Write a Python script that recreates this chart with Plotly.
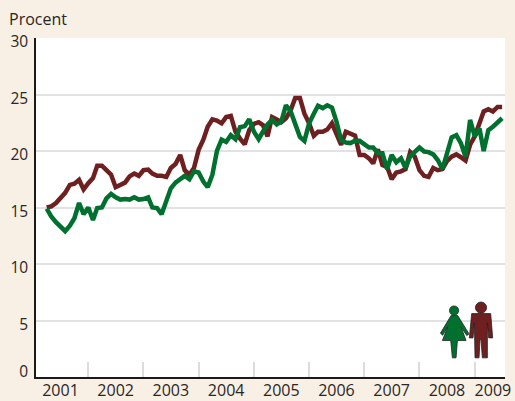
import pandas as pd
import plotly.graph_objects as go

months = pd.date_range("2001-04-01", periods=100, freq="MS")
men = [15.0,15.1,15.4,15.8,16.3,17.0,17.1,17.45,16.6,17.15,17.6,18.7,18.7,18.3,17.9,16.8,17.0,17.2,17.75,18.0,
       17.8,18.3,18.35,18.0,17.8,17.8,17.7,18.5,18.85,19.65,18.3,17.9,18.5,20.1,21.0,22.15,22.8,22.7,22.45,23.0,
       23.1,21.7,21.1,20.6,21.85,22.4,22.55,22.3,21.3,23.0,22.8,22.55,22.9,23.6,24.7,24.7,23.3,22.45,21.35,21.7,
       21.7,21.9,22.45,21.55,20.55,21.7,21.55,21.35,19.65,19.65,19.35,18.9,20.15,18.75,18.6,17.5,18.1,18.2,18.4,19.9,
       19.5,18.3,17.8,17.7,18.5,18.3,18.4,19.1,19.5,19.7,19.45,19.15,20.55,21.3,22.45,23.5,23.7,23.5,23.9,23.9]
women = [14.9,14.2,13.7,13.25,12.9,13.4,14.05,15.4,14.4,15.0,13.9,14.95,15.0,15.8,16.2,15.9,15.7,15.75,15.7,15.9,
         15.7,15.75,15.9,15.0,14.95,14.4,15.7,16.7,17.2,17.45,17.8,17.5,18.2,18.1,17.3,16.8,17.9,20.0,21.0,20.8,
         21.4,21.05,22.1,22.2,22.8,21.7,21.05,21.7,22.35,22.75,22.35,22.6,24.05,23.5,22.3,21.25,20.9,22.45,23.3,24.0,
         23.8,24.05,23.85,22.6,20.95,20.75,20.7,20.9,20.9,20.6,20.3,20.3,19.8,19.8,18.4,19.65,19.0,19.35,18.5,19.55,
         19.9,20.3,19.95,19.9,19.7,19.2,18.4,19.65,21.2,21.4,20.7,19.5,22.75,21.3,22.0,20.0,21.85,22.15,22.6,22.9]
year_labels = ["2001","2002","2003","2004","2005","2006","2007","2008","2009"]
year_label_pos = ["2001-07-01","2002-07-01","2003-07-01","2004-07-01","2005-07-01","2006-07-01","2007-07-01","2008-07-01","2009-05-01"]
y_labels = ["0","5","10","15","20","25","30"]
y_label_pos = [0.85,5,10,15,20,25,30]

W, H = 515, 401
BG = "#f8f0e4"
MAROON = "#6e1f1f"
GREEN = "#00702f"
INK = "#2a2626"
FONT = "Open Sans"
L, R, T, B = 35.5, 505, 38, 377.5

fig = go.Figure()
fig.add_trace(go.Scatter(x=months, y=men, mode="lines", line=dict(color=MAROON, width=4.5), showlegend=False))
fig.add_trace(go.Scatter(x=months, y=women, mode="lines", line=dict(color=GREEN, width=4.5), showlegend=False))

def px(x): return (x - L) / (R - L)
def py(y): return 1 - (y - T) / (B - T)
def z(pts):
    return "M " + " L ".join(f"{px(380+a/3):.4f},{py(290+b/3):.4f}" for a, b in pts) + " Z"

woman = [(213,78),(233,78),(267,133),(260,138),(243,112),(258,153),(232,153),(228,205),(217,205),(212,153),(187,153),(203,112),(188,137),(181,131)]
man = [(275,72),(332,72),(338,145),(326,145),(322,100),(322,205),(307,205),(303,150),(300,150),(297,205),(285,205),(283,100),(279,145),(268,145)]
shapes = []
for path, col in ((woman, GREEN), (man, MAROON)):
    shapes.append(dict(type="path", xref="paper", yref="paper", path=z(path), fillcolor=col, line=dict(color="#222", width=0.8)))
for cx, cy, r, col in ((454, 311, 4.6, GREEN), (481, 308, 5.6, MAROON)):
    shapes.append(dict(type="circle", xref="paper", yref="paper", x0=px(cx-r), x1=px(cx+r), y0=py(cy+r), y1=py(cy-r),
                       fillcolor=col, line=dict(color="#222", width=0.8)))

fig.update_layout(
    width=W, height=H, autosize=False,
    margin=dict(l=L, r=W-R, t=T, b=H-B, pad=0),
    paper_bgcolor=BG, plot_bgcolor="white",
    font=dict(family=FONT, size=16, color=INK),
    shapes=shapes,
    annotations=[dict(text="Procent", x=px(6), y=py(19), xref="paper", yref="paper", xanchor="left", yanchor="middle",
                      showarrow=False, font=dict(family=FONT, size=16, color=INK))],
    xaxis=dict(type="date", range=["2001-01-20","2009-07-20"], tickmode="array", tickvals=year_label_pos, ticktext=year_labels,
               automargin=False, ticks="", showgrid=False, zeroline=False, showline=True, linecolor="#1a1a1a", linewidth=1.5,
               tickangle=0, ticklabelstandoff=-2, tickfont=dict(size=16, color=INK),
               minor=dict(ticks="inside", ticklen=15, tickwidth=1.5, tickcolor="#dcdcdc", dtick="M12", tick0="2001-01-01", showgrid=False)),
    yaxis=dict(range=[0,30], tickmode="array", tickvals=y_label_pos, ticktext=y_labels, ticks="", showgrid=False,
               automargin=False, zeroline=False, showline=True, linecolor="#1a1a1a", linewidth=1.5, ticklabelshift=4,
               ticklabelstandoff=3, tickfont=dict(size=15.5, color=INK),
               minor=dict(ticks="", showgrid=True, gridcolor="#e2e2e2", gridwidth=1.5, dtick=5, tick0=0)),
)
fig.write_html("out.html", config=dict(displayModeBar=False),
               post_script="document.body.style.margin='0';document.body.style.background='#f8f0e4';")
